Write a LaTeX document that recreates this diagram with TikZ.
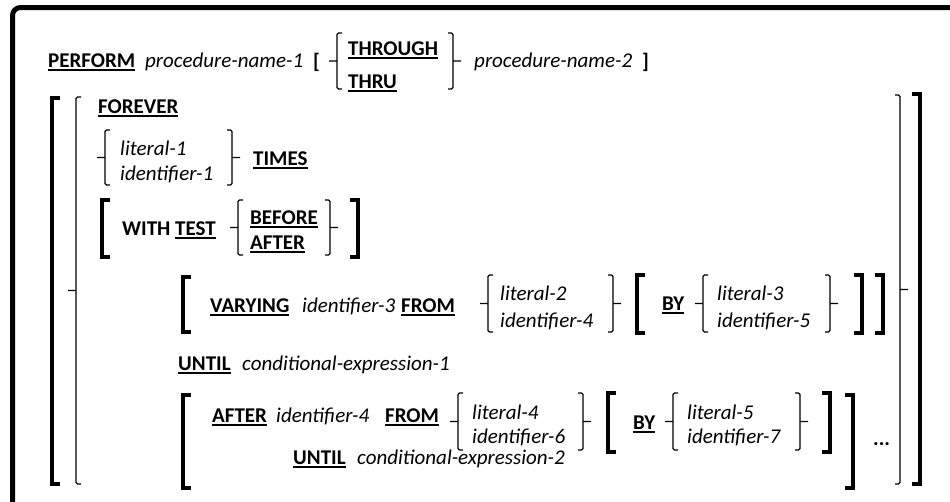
\documentclass[tikz,border=0pt]{standalone}
\usepackage{fontspec}
\setmainfont{Carlito}
\usepackage{tikz}
\usetikzlibrary{positioning}
% bold keyword with a heavy underline
\newcommand\kw[1]{{\bfseries\setbox0\hbox{#1}\rlap{\rule[-4.2pt]{\wd0}{1.8pt}}\box0}}
\tikzset{
  syn/.style={anchor=base west,inner sep=0pt,font=\fontsize{21}{25}\selectfont},
  var/.style={syn,font=\fontsize{21}{25}\selectfont\itshape},
  brc/.style={line width=1.1pt,rounded corners=1.5pt},
  brk/.style={line width=4pt},
}

\begin{document}
\begin{tikzpicture}[x=1pt,y=-1pt]
  \useasboundingbox (0,0) rectangle (950,501);
  \draw[line width=5pt,rounded corners=8pt] (12.5,520) -- (12.5,7.5) -- (970,7.5);

  % first line
  \node[syn] (perform) at (48,67) {\kw{PERFORM}};
  \node[var] (pname1) at (145,67) {procedure-name-1};
  \node[syn] (optl) at (313,68) {\textbf{[}};
  \node[syn] (through) at (348,55) {\kw{THROUGH}};
  \node[syn] (thru) at (348,88) {\kw{THRU}};
  \node[var] (pname2) at (474,67) {procedure-name-2};
  \node[syn] (optr) at (642,68) {\textbf{]}};

  % loop options
  \node[syn] (forever) at (98,113) {\kw{FOREVER}};
  \node[var] (lit1) at (120,155) {literal-1};
  \node[var] (id1) at (120,180) {identifier-1};
  \node[syn] (times) at (253,165) {\kw{TIMES}};
  \node[syn] (with) at (122,235) {\textbf{WITH} \kw{TEST}};
  \node[syn] (before) at (250,224) {\kw{BEFORE}};
  \node[syn] (afterkw) at (250,249) {\kw{AFTER}};

  \node[syn] (varying) at (210,312) {\kw{VARYING}};
  \node[var] (id3) at (302,312) {identifier-3};
  \node[syn] (from1) at (401,312) {\kw{FROM}};
  \node[var] (lit2) at (500,300) {literal-2};
  \node[var] (id4) at (500,327) {identifier-4};
  \node[syn] (by1) at (662,310) {\kw{BY}};
  \node[var] (lit3) at (717,300) {literal-3};
  \node[var] (id5) at (717,327) {identifier-5};
  \node[syn] (until1) at (178,370) {\kw{UNTIL}};
  \node[var] (cond1) at (242,370) {conditional-expression-1};

  \node[syn] (after) at (212,422) {\kw{AFTER}};
  \node[var] (id4b) at (276,422) {identifier-4};
  \node[syn] (from2) at (385,422) {\kw{FROM}};
  \node[var] (lit4) at (472,419) {literal-4};
  \node[var] (id6) at (472,443) {identifier-6};
  \node[syn] (by2) at (633,429) {\kw{BY}};
  \node[var] (lit5) at (687,419) {literal-5};
  \node[var] (id7) at (687,443) {identifier-7};
  \node[syn] (until2) at (293,464) {\kw{UNTIL}};
  \node[var] (cond2) at (357,464) {conditional-expression-2};
  \node[syn] (dots) at (873,445) {\textbf{...}};

  % braces
  \foreach \x/\t/\b in {337/33/89,105/130/185,238/200/255,488/275/332,703/275/332,458/393/450,673/393/450,76/97/484}
    \draw[brc] (\x+5,\t) -- (\x,\t) -- (\x,\b) -- (\x+5,\b) (\x,{(\t+\b)/2}) -- (\x-8,{(\t+\b)/2});
  \foreach \x/\t/\b in {453/33/89,232/130/185,330/200/255,613/275/332,830/275/332,583/393/450,800/393/450,900/95/484}
    \draw[brc] (\x-5,\t) -- (\x,\t) -- (\x,\b) -- (\x-5,\b) (\x,{(\t+\b)/2}) -- (\x+8,{(\t+\b)/2});

  % brackets
  \foreach \x/\t/\b in {52/98/484,102/200/257,183/277/332,637/275/333,183/395/488,608/393/452}
    \draw[brk] (\x+8,\t) -- (\x,\t) -- (\x,\b) -- (\x+8,\b);
  \foreach \x/\t/\b in {920/94/484,358/200/257,862/275/333,883/275/333,830/393/452,853/395/488}
    \draw[brk] (\x-8,\t) -- (\x,\t) -- (\x,\b) -- (\x-8,\b);
\end{tikzpicture}
\end{document}
